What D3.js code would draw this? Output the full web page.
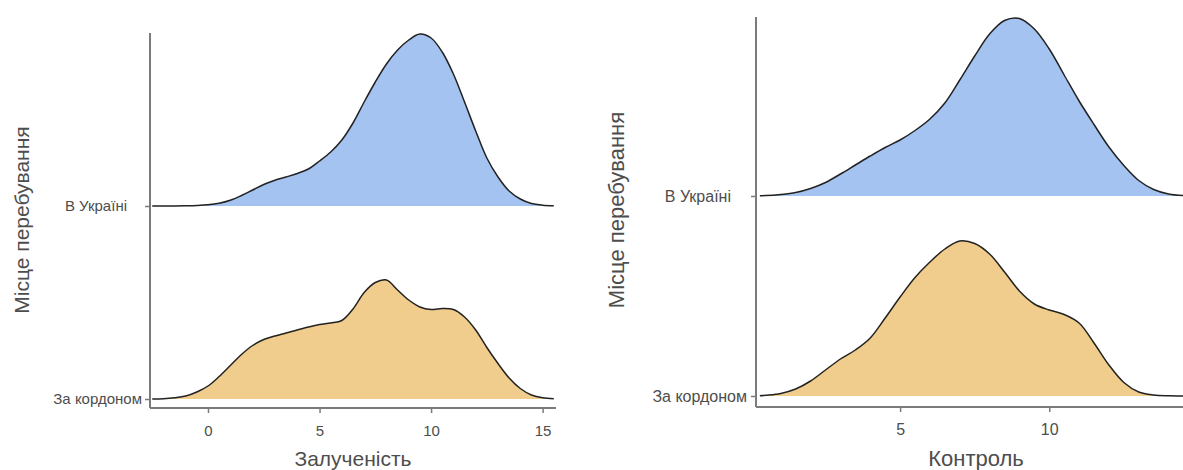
<!DOCTYPE html>
<html>
<head>
<meta charset="utf-8">
<script src="https://cdn.jsdelivr.net/npm/d3@7"></script>
<style>
  html, body { margin: 0; padding: 0; background: #fff; }
  svg { display: block; }
  text { font-family: "Liberation Sans", Arial, sans-serif; }
</style>
</head>
<body>
<svg id="chart" width="1183" height="470"></svg>
<script>
// ---- Data (estimated density heights) ----
const categories = ["В Україні", "За кордоном"];
const yTitle = "Місце перебування";

// Panel 1: Залученість
const engageTitle = "Залученість";
const engageTicks = [0, 5, 10, 15];
const engageX = [-2.5,-2,-1.5,-1,-0.5,0,0.5,1,1.5,2,2.5,3,3.5,4,4.5,5,5.5,6,6.5,7,7.5,8,8.5,9,9.5,10,10.5,11,11.5,12,12.5,13,13.5,14,14.5,15,15.5];
const engageUkraine = [0,0,0,0.0002,0.0005,0.0012,0.0028,0.0058,0.0105,0.016,0.0215,0.0258,0.029,0.0325,0.037,0.045,0.054,0.066,0.083,0.104,0.124,0.142,0.156,0.166,0.172,0.168,0.154,0.132,0.104,0.075,0.048,0.029,0.015,0.007,0.0025,0.0008,0.0002];
const engageAbroad = [0.0001,0.0003,0.0012,0.003,0.007,0.013,0.0225,0.0335,0.0445,0.0535,0.0595,0.063,0.066,0.069,0.072,0.0745,0.076,0.0785,0.09,0.1065,0.1165,0.119,0.109,0.099,0.092,0.0895,0.0905,0.0895,0.082,0.069,0.0515,0.0355,0.021,0.0105,0.004,0.0012,0.0003];

// Panel 2: Контроль
const controlTitle = "Контроль";
const controlTicks = [5, 10];
const controlX = [0.3,0.5,1,1.5,2,2.5,3,3.5,4,4.5,5,5.5,6,6.5,7,7.5,8,8.5,9,9.5,10,10.5,11,11.5,12,12.5,13,13.5,14,14.5];
const controlUkraine = [0.0003,0.0004,0.0015,0.0035,0.0075,0.0135,0.022,0.031,0.040,0.0485,0.056,0.0655,0.077,0.093,0.116,0.140,0.162,0.1755,0.1775,0.167,0.147,0.121,0.095,0.0715,0.049,0.0305,0.0155,0.0065,0.002,0.0004];
const controlAbroad = [0.0003,0.0008,0.0026,0.007,0.015,0.026,0.037,0.046,0.058,0.078,0.099,0.1185,0.134,0.147,0.155,0.1525,0.142,0.124,0.105,0.092,0.086,0.0815,0.073,0.053,0.031,0.0135,0.004,0.001,0.0002,0.00005];

const fillColors = { "В Україні": "#a4c3f0", "За кордоном": "#f0cd8c" };

// ---- Layout ----
const svg = d3.select("#chart");
const axisColor = "#7b7b7b";
const textColor = "#4d4d4d";

function drawPanel(cfg) {
  const g = svg.append("g");
  const x = d3.scaleLinear().domain(cfg.xDomain).range([cfg.left, cfg.right]);
  const y = d3.scalePoint().domain(categories.slice().reverse()).range([cfg.baseBottom, cfg.baseTop]);
  const h = d3.scaleLinear().domain([0, 0.2]).range([0, cfg.hPer02]);

  const series = [
    { cat: "В Україні", vals: cfg.ukraine },
    { cat: "За кордоном", vals: cfg.abroad }
  ];
  series.forEach(s => {
    const pts = cfg.xs.map((xv, i) => ({ x: xv, d: s.vals[i] }));
    const base = y(s.cat);
    const top = p => Math.min(base, base - h(p.d));
    const curve = d3.curveCatmullRom.alpha(0.5);
    const area = d3.area().x(p => x(p.x)).y0(base).y1(top).curve(curve);
    const line = d3.line().x(p => x(p.x)).y(top).curve(curve);
    g.append("path").attr("d", area(pts)).attr("fill", fillColors[s.cat]).attr("stroke", "none");
    g.append("path").attr("d", line(pts)).attr("fill", "none").attr("stroke", "#222").attr("stroke-width", 1.5);
  });

  // x axis
  const xAxis = d3.axisBottom(x).tickValues(cfg.ticks).tickSize(5).tickPadding(12).tickSizeOuter(0);
  const xa = g.append("g").attr("transform", `translate(0,${cfg.axisY})`).call(xAxis);
  xa.select(".domain").attr("stroke", axisColor).attr("stroke-width", 2)
    .attr("d", `M${cfg.left},0H${cfg.right}`);
  xa.selectAll(".tick line").attr("stroke", axisColor).attr("stroke-width", 1.5);
  xa.selectAll(".tick text").attr("fill", textColor).style("font-size", cfg.tickFont + "px")
    .style("font-family", '"Liberation Sans", Arial, sans-serif');

  // y axis
  const yAxis = d3.axisLeft(y).tickSize(5).tickPadding(cfg.yPad).tickSizeOuter(0);
  const ya = g.append("g").attr("transform", `translate(${cfg.left},0)`).call(yAxis);
  ya.select(".domain").attr("stroke", axisColor).attr("stroke-width", 2)
    .attr("d", `M0,${cfg.axisTop}V${cfg.axisY}`);
  ya.selectAll(".tick line").attr("stroke", axisColor).attr("stroke-width", 1.5);
  ya.selectAll(".tick text").attr("fill", textColor).style("font-size", cfg.tickFont + "px")
    .style("font-family", '"Liberation Sans", Arial, sans-serif')
    .attr("dx", d => d === "В Україні" ? -cfg.ukrShift : 0);

  // titles
  g.append("text").attr("x", cfg.xTitleX).attr("y", cfg.xTitleY)
    .attr("text-anchor", "middle").attr("fill", textColor)
    .style("font-size", cfg.titleFont + "px").text(cfg.xTitle);
  g.append("text").attr("transform", `translate(${cfg.yTitleX},${cfg.yTitleY}) rotate(-90)`)
    .attr("text-anchor", "middle").attr("fill", textColor)
    .style("font-size", cfg.titleFont + "px").text(yTitle);
}

drawPanel({
  xs: engageX, ukraine: engageUkraine, abroad: engageAbroad, ticks: engageTicks,
  xDomain: [-2.6, 15.6], left: 150, right: 556,
  baseTop: 206, baseBottom: 399, hPer02: 200,
  axisY: 408, axisTop: 33, tickFont: 15, titleFont: 21, ukrShift: 15, yPad: 3,
  xTitle: engageTitle, xTitleX: 353, xTitleY: 466, yTitleX: 29, yTitleY: 220
});

drawPanel({
  xs: controlX, ukraine: controlUkraine, abroad: controlAbroad, ticks: controlTicks,
  xDomain: [0.17, 14.55], left: 756, right: 1185,
  baseTop: 196, baseBottom: 396, hPer02: 200,
  axisY: 407, axisTop: 17, tickFont: 16, titleFont: 22, ukrShift: 16, yPad: 4,
  xTitle: controlTitle, xTitleX: 976, xTitleY: 466, yTitleX: 624, yTitleY: 210
});
</script>
</body>
</html>
